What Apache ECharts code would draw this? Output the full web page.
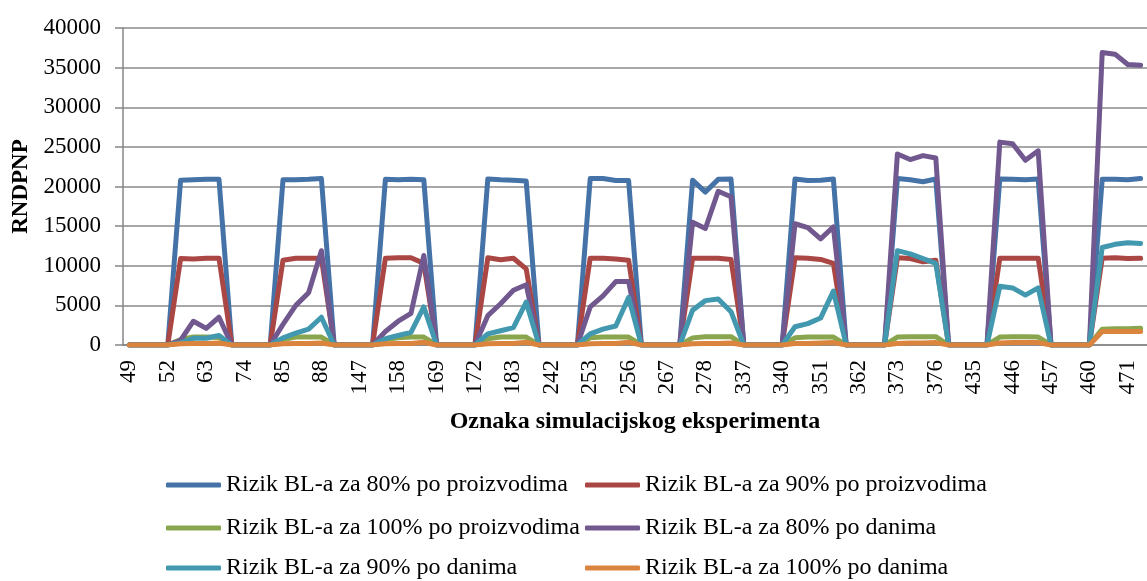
<!DOCTYPE html>
<html>
<head>
<meta charset="utf-8">
<script src="https://cdn.jsdelivr.net/npm/echarts@6/dist/echarts.min.js"></script>
<style>
html,body{margin:0;padding:0;background:#fff;}
#chart{width:1147px;height:581px;}
</style>
</head>
<body>
<div id="chart"></div>
<script>
// Categories: simulation experiment labels (groups of four consecutive experiments)
const categories = [
  "49","50","51","52","61","62","63","64",
  "73","74","75","76","85","86","87","88",
  "145","146","147","148","157","158","159","160",
  "169","170","171","172","181","182","183","184",
  "241","242","243","244","253","254","255","256",
  "265","266","267","268","277","278","279","280",
  "337","338","339","340","349","350","351","352",
  "361","362","363","364","373","374","375","376",
  "433","434","435","436","445","446","447","448",
  "457","458","459","460","469","470","471","472"
];

const seriesNames = [
  "Rizik BL-a za 80% po proizvodima",
  "Rizik BL-a za 90% po proizvodima",
  "Rizik BL-a za 100% po proizvodima",
  "Rizik BL-a za 80% po danima",
  "Rizik BL-a za 90% po danima",
  "Rizik BL-a za 100% po danima"
];

const blue80Proizvodi = [
  0,0,0,0, 20800,20850,20900,20900,
  0,0,0,0, 20850,20850,20900,21000,
  0,0,0,0, 20900,20850,20900,20850,
  0,0,0,0, 20950,20850,20800,20700,
  0,0,0,0, 21000,21000,20750,20750,
  0,0,0,0, 20800,19300,20900,20950,
  0,0,0,0, 20950,20750,20800,20950,
  0,0,0,0, 21000,20850,20600,20950,
  0,0,0,0, 20950,20900,20850,20950,
  0,0,0,0, 20900,20900,20850,21000
];
const red90Proizvodi = [
  0,0,0,0, 10900,10850,10950,10950,
  0,0,0,0, 10700,10950,10950,10950,
  0,0,0,0, 10950,11000,11000,10300,
  0,0,0,0, 11000,10750,10950,9600,
  0,0,0,0, 10950,10950,10850,10700,
  0,0,0,0, 10950,10950,10950,10800,
  0,0,0,0, 11000,10950,10800,10300,
  0,0,0,0, 11000,10900,10500,10700,
  0,0,0,0, 10950,10950,10950,10950,
  0,0,0,0, 10950,11000,10900,10950
];
const green100Proizvodi = [
  0,0,0,0, 700,1000,1000,950,
  0,0,0,0, 700,1000,1000,1000,
  0,0,0,0, 700,900,1000,1000,
  0,0,0,0, 800,1000,1000,1000,
  0,0,0,0, 900,1000,1000,1000,
  0,0,0,0, 900,1050,1050,1050,
  0,0,0,0, 900,1000,1000,1000,
  0,0,0,0, 1000,1050,1050,1050,
  0,0,0,0, 1000,1050,1050,1000,
  0,0,0,0, 2000,2050,2050,2100
];
const purple80Dani = [
  0,0,0,0, 600,3000,2100,3500,
  0,0,0,0, 2600,5000,6600,11900,
  0,0,0,0, 1700,3000,4000,11300,
  0,0,0,0, 3700,5200,6900,7600,
  0,0,0,0, 4800,6200,8000,8000,
  0,0,0,0, 15500,14700,19400,18700,
  0,0,0,0, 15300,14800,13400,14900,
  0,0,0,0, 24100,23400,23900,23600,
  0,0,0,0, 25600,25400,23300,24500,
  0,0,0,0, 36900,36700,35400,35300
];
const teal90Dani = [
  0,0,0,0, 300,850,850,1200,
  0,0,0,0, 900,1500,2000,3500,
  0,0,0,0, 800,1200,1600,4800,
  0,0,0,0, 1400,1800,2200,5400,
  0,0,0,0, 1400,2000,2400,6000,
  0,0,0,0, 4400,5600,5800,4200,
  0,0,0,0, 2300,2700,3400,6800,
  0,0,0,0, 11900,11500,10900,10300,
  0,0,0,0, 7400,7200,6300,7200,
  0,0,0,0, 12300,12700,12900,12800
];
const orange100Dani = [
  0,0,0,0, 150,200,200,250,
  0,0,0,0, 150,200,200,250,
  0,0,0,0, 150,200,200,350,
  0,0,0,0, 150,200,200,350,
  0,0,0,0, 150,200,200,350,
  0,0,0,0, 150,200,200,250,
  0,0,0,0, 200,200,250,300,
  0,0,0,0, 200,250,250,300,
  0,0,0,0, 250,300,300,300,
  0,0,0,0, 1700,1700,1700,1700
];

const yTicks = { min: 0, max: 40000, interval: 5000 };

const colors = ["#4572A7","#AA4643","#89A54E","#71588F","#4198AF","#DB843D"];
const seriesData = [blue80Proizvodi, red90Proizvodi, green100Proizvodi, purple80Dani, teal90Dani, orange100Dani];

const FONT = "'Liberation Serif','Times New Roman',serif";

// legend placement: [left, top] per series
const legendPos = [[166,473],[585,473],[166,516],[585,516],[166,556],[585,556]];

const chart = echarts.init(document.getElementById('chart'), null, {renderer:'canvas'});
chart.setOption({
  animation: false,
  backgroundColor: '#ffffff',
  color: colors,
  grid: { left: 123, top: 28, right: -8, bottom: 236, containLabel: false },
  legend: seriesNames.map((n, i) => ({
    data: [n],
    left: legendPos[i][0],
    top: legendPos[i][1],
    icon: 'roundRect',
    itemWidth: 55,
    itemHeight: 5,
    padding: 0,
    textStyle: { fontFamily: FONT, fontSize: 24, color: '#000' }
  })),
  xAxis: {
    type: 'category',
    data: categories,
    boundaryGap: true,
    name: 'Oznaka simulacijskog eksperimenta',
    nameLocation: 'middle',
    nameGap: 65,
    nameTextStyle: { fontFamily: FONT, fontSize: 24, fontWeight: 'bold', color: '#000' },
    axisLine: { lineStyle: { color: '#868686', width: 1.5 } },
    axisTick: { interval: 0, length: 7, lineStyle: { color: '#868686', width: 1.5 } },
    axisLabel: { interval: 2, rotate: 90, margin: 15, fontFamily: FONT, fontSize: 23, color: '#000' },
    splitLine: { show: false }
  },
  yAxis: {
    type: 'value',
    min: yTicks.min, max: yTicks.max, interval: yTicks.interval,
    name: 'RNDPNP',
    nameLocation: 'middle',
    nameGap: 83,
    nameRotate: 90,
    nameTextStyle: { fontFamily: FONT, fontSize: 23, fontWeight: 'bold', color: '#000' },
    axisLine: { show: true, lineStyle: { color: '#868686', width: 1.5 } },
    axisTick: { show: true, length: 8, lineStyle: { color: '#868686', width: 1.5 } },
    axisLabel: { margin: 22, fontFamily: FONT, fontSize: 23, color: '#000', formatter: v => String(v) },
    splitLine: { lineStyle: { color: '#8a8a8a', width: 1.5 } }
  },
  series: seriesNames.map((n, i) => ({
    name: n,
    type: 'line',
    data: seriesData[i],
    symbol: 'none',
    smooth: false,
    lineStyle: { width: 5, color: colors[i], join: 'round', cap: 'round' },
    itemStyle: { color: colors[i] },
    z: 2 + i
  }))
});
</script>
</body>
</html>
